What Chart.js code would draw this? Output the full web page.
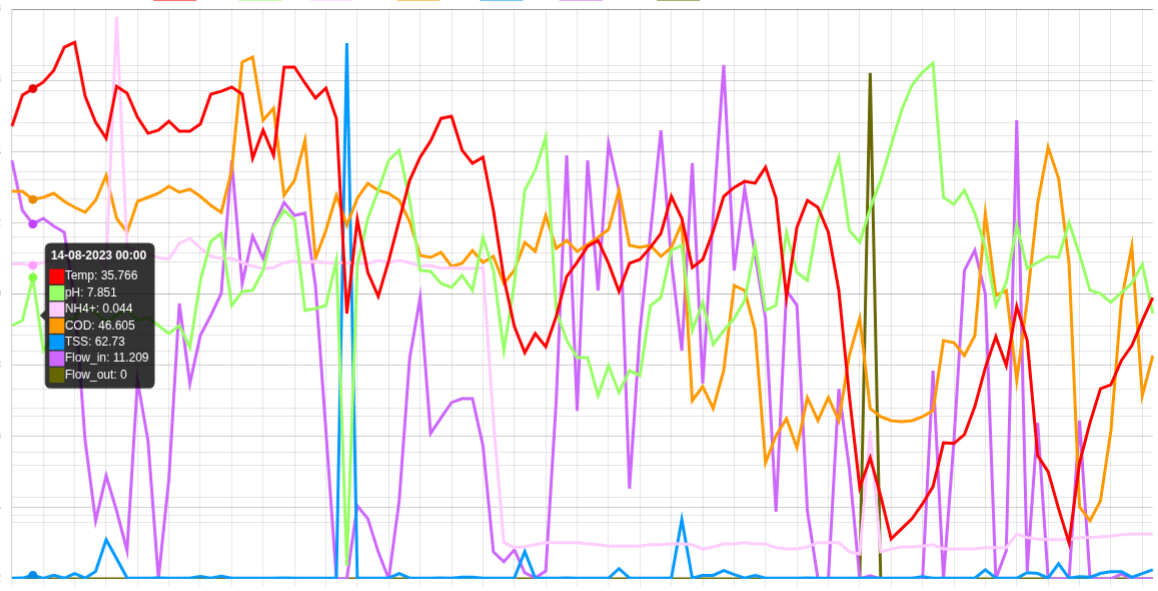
<!DOCTYPE html>
<html>
<head>
<meta charset="utf-8">
<script src="https://cdn.jsdelivr.net/npm/chart.js@4.4.0/dist/chart.umd.min.js"></script>
<style>
  html, body { margin: 0; padding: 0; overflow: hidden; background: #fff; width: 1158px; height: 591px; }
  #wrap { position: absolute; left: 0; top: 0; width: 1500px; height: 800px; }
</style>
</head>
<body>
<div id="wrap"><canvas id="chart"></canvas></div>
<script>
const labels = [
  '12-08-2023 00:00', '13-08-2023 00:00', '14-08-2023 00:00', '15-08-2023 00:00', '16-08-2023 00:00',
  '17-08-2023 00:00', '18-08-2023 00:00', '19-08-2023 00:00', '20-08-2023 00:00', '21-08-2023 00:00',
  '22-08-2023 00:00', '23-08-2023 00:00', '24-08-2023 00:00', '25-08-2023 00:00', '26-08-2023 00:00',
  '27-08-2023 00:00', '28-08-2023 00:00', '29-08-2023 00:00', '30-08-2023 00:00', '31-08-2023 00:00',
  '01-09-2023 00:00', '02-09-2023 00:00', '03-09-2023 00:00', '04-09-2023 00:00', '05-09-2023 00:00',
  '06-09-2023 00:00', '07-09-2023 00:00', '08-09-2023 00:00', '09-09-2023 00:00', '10-09-2023 00:00',
  '11-09-2023 00:00', '12-09-2023 00:00', '13-09-2023 00:00', '14-09-2023 00:00', '15-09-2023 00:00',
  '16-09-2023 00:00', '17-09-2023 00:00', '18-09-2023 00:00', '19-09-2023 00:00', '20-09-2023 00:00',
  '21-09-2023 00:00', '22-09-2023 00:00', '23-09-2023 00:00', '24-09-2023 00:00', '25-09-2023 00:00',
  '26-09-2023 00:00', '27-09-2023 00:00', '28-09-2023 00:00', '29-09-2023 00:00', '30-09-2023 00:00',
  '01-10-2023 00:00', '02-10-2023 00:00', '03-10-2023 00:00', '04-10-2023 00:00', '05-10-2023 00:00',
  '06-10-2023 00:00', '07-10-2023 00:00', '08-10-2023 00:00', '09-10-2023 00:00', '10-10-2023 00:00',
  '11-10-2023 00:00', '12-10-2023 00:00', '13-10-2023 00:00', '14-10-2023 00:00', '15-10-2023 00:00',
  '16-10-2023 00:00', '17-10-2023 00:00', '18-10-2023 00:00', '19-10-2023 00:00', '20-10-2023 00:00',
  '21-10-2023 00:00', '22-10-2023 00:00', '23-10-2023 00:00', '24-10-2023 00:00', '25-10-2023 00:00',
  '26-10-2023 00:00', '27-10-2023 00:00', '28-10-2023 00:00', '29-10-2023 00:00', '30-10-2023 00:00',
  '31-10-2023 00:00', '01-11-2023 00:00', '02-11-2023 00:00', '03-11-2023 00:00', '04-11-2023 00:00',
  '05-11-2023 00:00', '06-11-2023 00:00', '07-11-2023 00:00', '08-11-2023 00:00', '09-11-2023 00:00',
  '10-11-2023 00:00', '11-11-2023 00:00', '12-11-2023 00:00', '13-11-2023 00:00', '14-11-2023 00:00',
  '15-11-2023 00:00', '16-11-2023 00:00', '17-11-2023 00:00', '18-11-2023 00:00', '19-11-2023 00:00',
  '20-11-2023 00:00', '21-11-2023 00:00', '22-11-2023 00:00', '23-11-2023 00:00', '24-11-2023 00:00',
  '25-11-2023 00:00', '26-11-2023 00:00', '27-11-2023 00:00', '28-11-2023 00:00', '29-11-2023 00:00'
];

const tempValues = [
  34.71, 35.58, 35.766, 35.95, 36.28, 36.93, 37.07, 35.55, 34.82, 34.37,
  35.83, 35.64, 34.96, 34.51, 34.60, 34.85, 34.57, 34.57, 34.77, 35.61,
  35.69, 35.81, 35.61, 33.81, 34.60, 33.89, 36.37, 36.37, 35.92, 35.50,
  35.78, 34.93, 29.45, 32.09, 30.60, 29.93, 30.94, 32.07, 33.19, 33.84,
  34.29, 34.93, 34.99, 34.04, 33.67, 33.84, 32.35, 30.44, 29.09, 28.35,
  28.89, 28.52, 29.37, 30.49, 30.89, 31.34, 31.50, 30.86, 30.07, 30.86,
  30.97, 31.31, 31.70, 32.74, 32.12, 30.74, 30.97, 31.76, 32.74, 32.99,
  33.16, 33.11, 33.56, 32.69, 29.90, 31.87, 32.63, 32.43, 31.73, 30.10,
  27.15, 24.56, 25.40, 24.33, 23.12, 23.41, 23.69, 24.11, 24.59, 25.82,
  25.80, 26.05, 26.84, 27.93, 28.80, 27.99, 29.65, 28.69, 25.46, 25.01,
  23.97, 23.01, 25.26, 26.39, 27.34, 27.45, 28.13, 28.55, 29.25, 29.90
];

const phValues = [
  7.556, 7.587, 7.851, 7.402, 7.495, 7.575, 7.599, 7.679, 7.636, 7.575,
  7.618, 7.661, 7.587, 7.605, 7.556, 7.507, 7.556, 7.421, 7.833, 8.073,
  8.122, 7.679, 7.765, 7.772, 7.895, 8.159, 8.264, 8.202, 7.649, 7.661,
  7.679, 7.956, 6.080, 7.925, 8.214, 8.387, 8.571, 8.633, 8.325, 7.895,
  7.888, 7.815, 7.790, 7.864, 7.772, 8.098, 7.895, 7.402, 7.815, 8.387,
  8.510, 8.713, 7.649, 7.464, 7.359, 7.359, 7.126, 7.310, 7.144, 7.279,
  7.249, 7.679, 7.728, 8.018, 8.048, 7.525, 7.698, 7.439, 7.525, 7.599,
  7.710, 8.048, 7.649, 7.679, 8.128, 7.882, 7.833, 8.202, 8.387, 8.590,
  8.141, 8.067, 8.276, 8.448, 8.663, 8.879, 9.033, 9.112, 9.168, 8.344,
  8.301, 8.387, 8.245, 8.036, 7.679, 7.821, 8.171, 7.907, 7.944, 7.981,
  7.975, 8.190, 7.993, 7.772, 7.753, 7.698, 7.759, 7.815, 7.931, 7.630
];

const nh4Values = [
  0.0442, 0.0442, 0.044, 0.0444, 0.0450, 0.0453, 0.0456, 0.0453, 0.0458, 0.0436,
  0.0789, 0.0465, 0.0461, 0.0456, 0.0451, 0.0449, 0.0471, 0.0478, 0.0464, 0.0453,
  0.0450, 0.0450, 0.0444, 0.0439, 0.0436, 0.0437, 0.0444, 0.0446, 0.0444, 0.0446,
  0.0444, 0.0444, 0.0444, 0.0443, 0.0443, 0.0447, 0.0444, 0.0447, 0.0444, 0.0439,
  0.0440, 0.0436, 0.0437, 0.0436, 0.0436, 0.0437, 0.0222, 0.0051, 0.0044, 0.0045,
  0.0048, 0.0051, 0.0051, 0.0051, 0.0051, 0.0049, 0.0048, 0.0046, 0.0046, 0.0046,
  0.0046, 0.0048, 0.0048, 0.0049, 0.0049, 0.0048, 0.0042, 0.0045, 0.0049, 0.0049,
  0.0051, 0.0049, 0.0049, 0.0044, 0.0042, 0.0042, 0.0045, 0.0051, 0.0051, 0.0051,
  0.0038, 0.0035, 0.0208, 0.0038, 0.0042, 0.0045, 0.0045, 0.0046, 0.0048, 0.0042,
  0.0042, 0.0042, 0.0042, 0.0044, 0.0044, 0.0044, 0.0063, 0.0058, 0.0056, 0.0055,
  0.0055, 0.0055, 0.0058, 0.0058, 0.0059, 0.0060, 0.0062, 0.0063, 0.0063, 0.0063
];

const codValues = [
  47.61, 47.61, 46.605, 46.87, 47.36, 46.38, 45.64, 45.03, 46.50, 49.58,
  44.29, 42.57, 46.38, 46.87, 47.36, 48.22, 47.49, 47.86, 46.99, 45.89,
  45.03, 50.19, 63.48, 64.09, 56.34, 57.82, 47.12, 48.96, 53.88, 39.37,
  42.81, 47.12, 43.43, 46.75, 48.59, 47.73, 47.36, 46.50, 43.92, 39.74,
  39.49, 40.11, 38.38, 38.75, 40.35, 38.87, 39.61, 36.29, 37.89, 41.34,
  40.23, 44.66, 40.60, 41.58, 40.23, 41.09, 41.95, 42.93, 47.73, 40.97,
  40.72, 40.97, 39.61, 40.72, 43.67, 21.90, 23.62, 20.91, 25.59, 36.05,
  35.43, 30.51, 14.27, 17.59, 19.68, 16.12, 22.27, 19.44, 22.27, 19.44,
  27.43, 31.99, 20.91, 19.93, 19.44, 19.31, 19.44, 19.93, 20.67, 29.28,
  29.03, 27.43, 29.89, 44.90, 34.82, 35.43, 24.36, 34.20, 46.13, 53.02,
  49.21, 38.75, 8.86, 7.14, 9.60, 18.21, 34.20, 40.84, 22.51, 27.43
];

const tssValues = [
  12, 15, 62.73, 10, 65, 12, 95, 14, 130, 690,
  355, 16, 14, 12, 15, 13, 14, 12, 45, 13,
  48, 12, 12, 14, 11, 13, 15, 12, 14, 13,
  12, 14, 9400, 15, 12, 14, 13, 95, 14, 12,
  13, 15, 14, 28, 30, 14, 12, 13, 14, 480,
  12, 14, 13, 15, 12, 14, 13, 12, 180, 14,
  12, 13, 14, 12, 1040, 14, 60, 62, 145, 75,
  14, 60, 13, 12, 14, 13, 15, 12, 14, 13,
  12, 14, 15, 12, 13, 14, 12, 40, 13, 12,
  14, 13, 12, 160, 14, 12, 13, 110, 95, 14,
  265, 12, 40, 28, 95, 125, 125, 28, 95, 160
];

const flowInValues = [
  13.22, 11.64, 11.209, 11.39, 11.14, 10.95, 8.79, 4.37, 1.83, 3.26,
  2.15, 0.89, 6.26, 4.37, 0, 3.16, 8.70, 6.17, 7.69, 8.32,
  9.02, 13.22, 9.33, 10.82, 10.12, 11.17, 11.89, 11.48, 11.55, 9.27,
  4.68, 0, 0, 2.31, 1.90, 0.85, 0, 2.47, 6.96, 8.89,
  4.59, 5.09, 5.57, 5.69, 5.69, 4.21, 0.85, 0.54, 0.92, 0.19,
  0.03, 0.25, 5.63, 13.38, 5.31, 13.22, 9.11, 13.76, 12.27, 2.85,
  7.85, 10.92, 14.17, 10.06, 7.21, 13.13, 6.17, 11.48, 16.23, 9.74,
  12.34, 10.22, 8.22, 2.12, 9.11, 8.64, 2.15, 0, 0, 6.00,
  3.50, 0, 0.10, 0, 0, 0, 0, 0, 6.58, 0,
  4.37, 9.74, 10.38, 9.00, 0, 0.89, 14.49, 0.25, 4.93, 0,
  0, 0, 5.00, 0, 0, 0, 0.15, 0, 0, 0
];

const flowOutValues = [
  0, 0, 0, 0, 0, 0, 0, 0, 0, 0,
  0, 0, 0, 0, 0, 0, 0, 0, 0, 0,
  0, 0, 0, 0, 0, 0, 0, 0, 0, 0,
  0, 0, 0, 0, 0, 0, 0, 0, 0, 0,
  0, 0, 0, 0, 0, 0, 0, 0, 0, 0,
  0, 0, 0, 0, 0, 0, 0, 0, 0, 0,
  0, 0, 0, 0, 0, 0, 0, 0, 0, 0,
  0, 0, 0, 0, 0, 0, 0, 0, 0, 0,
  0, 0, 22.2, 0, 0, 0, 0, 0, 0, 0,
  0, 0, 0, 0, 0, 0, 0, 0, 0, 0,
  0, 0, 0, 0, 0, 0, 0, 0, 0, 0
];

// where the plot area sits in the 1158x591 window (the chart is larger and cropped)
const AREA_LEFT = 11.7, AREA_TOP = 9, AREA_W = 1140, AREA_H = 569;
const LEGEND_FIRST_X = 154.5;
const HOVER_INDEX = 2;
let extraAxisWidth = 0;

function series(label, data, color, axis) {
    return {
        label, data, yAxisID: axis,
        borderColor: color, backgroundColor: color,
        borderWidth: 3, pointRadius: 0, pointHoverRadius: 4, tension: 0
    };
}

const wrap = document.getElementById('wrap');
const chart = new Chart(document.getElementById('chart'), {
    type: 'line',
    data: {
        labels,
        datasets: [
            series('Temp', tempValues, '#ff0000', 'yTemp'),
            series('pH', phValues, '#99ff66', 'yPh'),
            series('NH4+', nh4Values, '#ffccff', 'yNh4'),
            series('COD', codValues, '#ff9900', 'yCod'),
            series('TSS', tssValues, '#0099ff', 'yTss'),
            series('Flow_in', flowInValues, '#cc66ff', 'yFlowIn'),
            series('Flow_out', flowOutValues, '#666600', 'yFlowOut')
        ]
    },
    options: {
        responsive: true,
        maintainAspectRatio: false,
        animation: false,
        interaction: { mode: 'index', intersect: false },
        plugins: {
            tooltip: { caretPadding: 7 }
        },
        scales: {
            x: {
                grid: { color: ctx => ctx.index % 3 === 0 ? 'rgba(0,0,0,0.1)' : 'rgba(0,0,0,0)' },
                ticks: { autoSkip: false, callback: (v, i) => i % 3 === 0 ? labels[i] : '' }
            },
            yTemp: { position: 'left', min: 22, max: 38, ticks: { stepSize: 2 }, grid: { display: false } },
            yPh: { position: 'left', min: 6, max: 9.5, ticks: { stepSize: 0.5 } },
            yNh4: { position: 'left', min: 0, max: 0.08, ticks: { stepSize: 0.01 }, grid: { color: 'rgba(0,0,0,0.19)' } },
            yCod: { position: 'left', min: 0, max: 70, ticks: { stepSize: 10 }, grid: { drawOnChartArea: false } },
            yTss: { position: 'left', min: 0, max: 10000, ticks: { stepSize: 1000 } },
            yFlowIn: { position: 'left', min: 0, max: 18, ticks: { stepSize: 2 } },
            yFlowOut: {
                position: 'left', min: 0, max: 25, ticks: { stepSize: 5 }, grid: { drawOnChartArea: false },
                afterFit: scale => { scale.width = Math.max(scale.width + extraAxisWidth, 0); }
            }
        }
    }
});

function fitToWindow() {
    for (let k = 0; k < 4; k++) {
        const a = chart.chartArea;
        wrap.style.width = (a.left + AREA_W + chart.width - a.right) + 'px';
        wrap.style.height = (a.top + AREA_H + chart.height - a.bottom) + 'px';
        chart.resize();
    }
    const a = chart.chartArea;
    wrap.style.left = (AREA_LEFT - a.left) + 'px';
    wrap.style.top = (AREA_TOP - a.top) + 'px';
}

fitToWindow();
for (let k = 0; k < 3; k++) {
    const box = chart.legend.legendHitBoxes[0];
    const x = box.left - chart.chartArea.left + AREA_LEFT;
    extraAxisWidth += 2 * (x - LEGEND_FIRST_X);
    chart.update();
    fitToWindow();
}

const active = chart.data.datasets.map((d, i) => ({ datasetIndex: i, index: HOVER_INDEX }));
chart.setActiveElements(active);
chart.tooltip.setActiveElements(active, { x: 0, y: 0 });
chart.update();
</script>
</body>
</html>
